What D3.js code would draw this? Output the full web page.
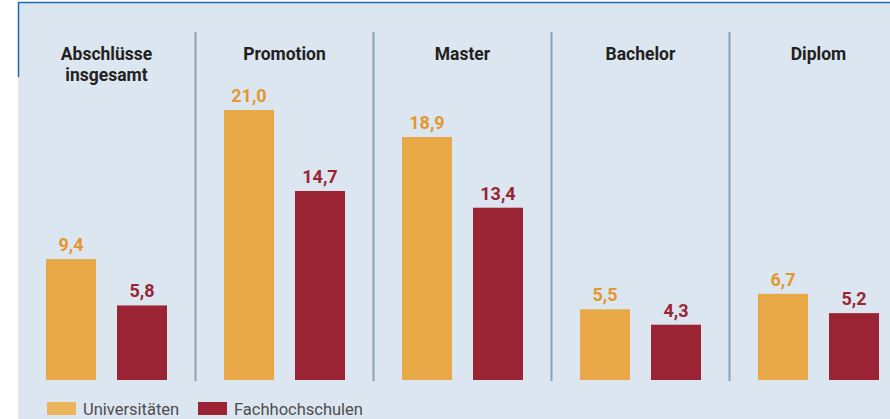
<!DOCTYPE html>
<html>
<head>
<meta charset="utf-8">
<script src="https://cdn.jsdelivr.net/npm/d3@7"></script>
<style>
    body { margin: 0; background: #fff; }
    svg { display: block; }
</style>
</head>
<body>
<div id="chart"></div>
<script>
'use strict'

const categories = ["Abschlüsse insgesamt", "Promotion", "Master", "Bachelor", "Diplom"];
const series = ["Universitäten", "Fachhochschulen"];
const universitaeten = [9.4, 21.0, 18.9, 5.5, 6.7];
const fachhochschulen = [5.8, 14.7, 13.4, 4.3, 5.2];

const colors = { "Universitäten": "#e9a846", "Fachhochschulen": "#9a2433" };
const labelColors = { "Universitäten": "#e3972c", "Fachhochschulen": "#9a2433" };

document.addEventListener('DOMContentLoaded', function () {
    const width = 890;
    const height = 419;
    const fontFamily = "Roboto, 'Open Sans', sans-serif";

    const data = categories.map((c, i) => ({
        category: c,
        values: [
            { series: series[0], value: universitaeten[i] },
            { series: series[1], value: fachhochschulen[i] }
        ]
    }));

    const svg = d3.select("#chart")
        .append("svg")
        .attr("width", width)
        .attr("height", height)
        .style("font-family", fontFamily);

    // panel background
    svg.append("rect")
        .attr("x", 18)
        .attr("y", 2)
        .attr("width", width - 18)
        .attr("height", height - 2)
        .attr("fill", "#dce6f0");

    svg.append("line")
        .attr("x1", 18).attr("x2", width)
        .attr("y1", 2.5).attr("y2", 2.5)
        .attr("stroke", "#1f6aa5")
        .attr("stroke-width", 1.5);

    svg.append("line")
        .attr("x1", 18.5).attr("x2", 18.5)
        .attr("y1", 2).attr("y2", 77)
        .attr("stroke", "#1f6aa5")
        .attr("stroke-width", 1.5);

    // scales
    const x0 = d3.scaleBand()
        .domain(categories)
        .range([17, 17 + 178 * categories.length]);

    // two bars of 50px with a 21px gap
    const x1 = d3.scaleBand()
        .domain(series)
        .range([29, 150])
        .paddingInner(21 / 71)
        .paddingOuter(0);

    const baseline = 380;
    const y = d3.scaleLinear()
        .domain([0, 21])
        .range([baseline, 110]);

    // separators
    svg.selectAll(".sep")
        .data(categories.slice(1))
        .enter().append("line")
        .attr("class", "sep")
        .attr("x1", d => x0(d) + 0.5)
        .attr("x2", d => x0(d) + 0.5)
        .attr("y1", 32)
        .attr("y2", 381)
        .attr("stroke", "#86a2b3")
        .attr("stroke-width", 2);

    const groups = svg.selectAll(".group")
        .data(data)
        .enter().append("g")
        .attr("class", "group")
        .attr("transform", d => `translate(${x0(d.category)},0)`);

    // titles
    groups.append("text")
        .attr("x", x0.bandwidth() / 2 + 0.5)
        .attr("y", 60)
        .attr("text-anchor", "middle")
        .style("font-size", "17.5px")
        .style("font-weight", "bold")
        .style("fill", "#231f20")
        .selectAll("tspan")
        .data(d => d.category === "Abschlüsse insgesamt" ? ["Abschlüsse", "insgesamt"] : [d.category])
        .enter().append("tspan")
        .attr("x", x0.bandwidth() / 2 + 0.5)
        .attr("dy", (d, i) => i === 0 ? 0 : 21)
        .text(d => d);

    // bars
    groups.selectAll("rect")
        .data(d => d.values)
        .enter().append("rect")
        .attr("x", d => x1(d.series))
        .attr("y", d => y(d.value))
        .attr("width", x1.bandwidth())
        .attr("height", d => baseline - y(d.value))
        .attr("fill", d => colors[d.series]);

    // value labels
    groups.selectAll(".val")
        .data(d => d.values)
        .enter().append("text")
        .attr("class", "val")
        .attr("x", d => x1(d.series) + x1.bandwidth() / 2)
        .attr("y", d => y(d.value) - 8)
        .attr("text-anchor", "middle")
        .style("font-size", "18px")
        .style("font-weight", "bold")
        .style("fill", d => labelColors[d.series])
        .text(d => d3.format(".1f")(d.value).replace(".", ","));

    // legend
    const legendX = [47, 198];
    const legend = svg.selectAll(".legend")
        .data(series)
        .enter().append("g")
        .attr("class", "legend")
        .attr("transform", (d, i) => `translate(${legendX[i]},402)`);

    legend.append("rect")
        .attr("width", 29)
        .attr("height", 13)
        .attr("fill", d => d === series[0] ? "#edb45e" : colors[d]);

    legend.append("text")
        .attr("x", 36)
        .attr("y", 12.5)
        .style("font-size", "16.5px")
        .style("fill", "#4d4d4f")
        .text(d => d);
});
</script>
</body>
</html>
